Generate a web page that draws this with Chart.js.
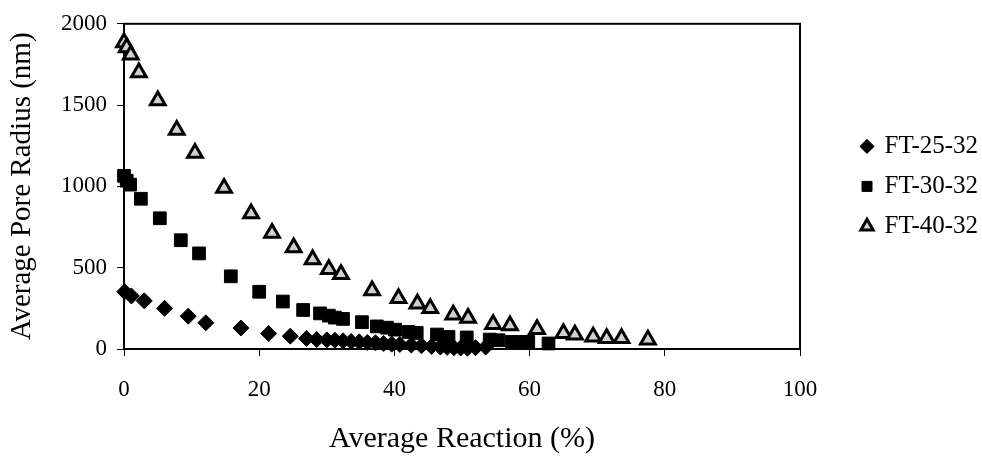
<!DOCTYPE html>
<html>
<head>
<meta charset="utf-8">
<script src="https://cdn.jsdelivr.net/npm/chart.js@4/dist/chart.umd.min.js"></script>
<style>
  html, body { margin: 0; padding: 0; background: #fff; }
  #wrap { width: 982px; height: 462px; }
</style>
</head>
<body>
<div id="wrap"><canvas id="myChart" width="982" height="462"></canvas></div>
<script>
// series names
const seriesNames = ['FT-25-32', 'FT-30-32', 'FT-40-32'];

// FT-25-32 (diamonds)
const reaction25 = [0.1, 1.1, 3.0, 6.0, 9.5, 12.1, 17.3, 21.4, 24.6, 27.0, 28.5, 30.0, 31.2, 32.4, 33.6, 34.8, 36.0, 37.2, 38.4, 39.6, 40.8, 42.5, 44.0, 45.5, 46.8, 47.8, 48.8, 49.8, 50.8, 52.0, 53.5];
const radius25 = [352, 326, 296, 250, 202, 161, 129, 95, 79, 65, 58, 56, 54, 50, 46, 44, 40, 38, 34, 30, 28, 24, 20, 16, 12, 10, 8, 6, 5, 8, 12];

// FT-30-32 (squares)
const reaction30 = [0.0, 0.4, 0.9, 2.5, 5.3, 8.4, 11.1, 15.8, 20.0, 23.5, 26.5, 29.0, 30.3, 31.2, 32.4, 35.2, 37.4, 38.9, 40.1, 42.1, 43.3, 46.3, 48.0, 50.7, 54.1, 55.4, 57.4, 58.6, 59.8, 62.8];
const radius30 = [1065, 1035, 1011, 924, 804, 669, 588, 447, 352, 292, 240, 219, 205, 193, 185, 165, 139, 131, 119, 105, 99, 89, 74, 71, 58, 54, 44, 44, 44, 34];

// FT-40-32 (triangles)
const reaction40 = [0.0, 0.4, 1.0, 2.2, 5.0, 7.8, 10.5, 14.8, 18.8, 21.9, 25.1, 27.9, 30.3, 32.1, 36.7, 40.6, 43.4, 45.3, 48.7, 50.9, 54.6, 57.1, 61.1, 65.0, 66.7, 69.4, 71.4, 73.6, 77.5];
const radius40 = [1885, 1855, 1810, 1700, 1529, 1347, 1205, 990, 834, 713, 625, 550, 490, 459, 360, 312, 278, 250, 210, 190, 152, 145, 122, 97, 88, 75, 66, 66, 57];

// axis ticks
const xTicks = [0, 20, 40, 60, 80, 100];
const yTicks = [0, 500, 1000, 1500, 2000];

const serif = "'Liberation Serif', 'Times New Roman', serif";

const toPoints = (xs, ys) => xs.map((x, i) => ({ x: x, y: ys[i] }));

// draw the box round the plot area
const frame = {
  id: 'frame',
  beforeDatasetsDraw(chart) {
    const a = chart.chartArea;
    const ctx = chart.ctx;
    ctx.save();
    ctx.strokeStyle = '#000';
    ctx.lineWidth = 2;
    ctx.strokeRect(a.left, a.top, a.right - a.left, a.bottom - a.top);
    ctx.restore();
  }
};

const ctx = document.getElementById('myChart');
new Chart(ctx, {
  type: 'scatter',
  data: {
    datasets: [
      {
        label: seriesNames[0],
        data: toPoints(reaction25, radius25),
        pointStyle: 'rectRot',
        pointRadius: 8,
        backgroundColor: '#000',
        borderColor: '#000',
        borderWidth: 1,
        clip: false
      },
      {
        label: seriesNames[1],
        data: toPoints(reaction30, radius30),
        pointStyle: 'rect',
        pointRadius: 9,
        backgroundColor: '#000',
        borderColor: '#000',
        borderWidth: 1,
        clip: false
      },
      {
        label: seriesNames[2],
        data: toPoints(reaction40, radius40),
        pointStyle: 'triangle',
        pointRadius: 8.5,
        backgroundColor: '#d0d0d0',
        borderColor: '#000',
        borderWidth: 3,
        clip: false
      }
    ]
  },
  options: {
    responsive: false,
    animation: false,
    layout: { padding: { top: 18, left: 0, bottom: 0, right: 0 } },
    plugins: {
      tooltip: { enabled: false },
      legend: {
        position: 'right',
        fullSize: false,
        maxWidth: 135,
        labels: {
          usePointStyle: true,
          boxWidth: 10,
          boxHeight: 10,
          padding: 15,
          color: '#000',
          font: { family: serif, size: 25 }
        }
      }
    },
    scales: {
      x: {
        type: 'linear',
        min: 0,
        max: 100,
        afterBuildTicks: s => { s.ticks = xTicks.map(v => ({ value: v })); },
        afterFit: s => { s.height = 113; },
        grid: { drawOnChartArea: false, drawTicks: true, tickLength: 7, color: '#000' },
        border: { color: '#000', width: 2 },
        ticks: { color: '#000', padding: 20, font: { family: serif, size: 23 }, callback: v => v },
        title: {
          display: true,
          text: 'Average Reaction (%)',
          color: '#000',
          padding: { top: 0, bottom: 5 },
          font: { family: serif, size: 30 }
        }
      },
      y: {
        type: 'linear',
        min: 0,
        max: 2000,
        afterBuildTicks: s => { s.ticks = yTicks.map(v => ({ value: v })); },
        afterFit: s => { s.width = 124; },
        grid: { drawOnChartArea: false, drawTicks: true, tickLength: 7, color: '#000' },
        border: { color: '#000', width: 2 },
        ticks: { color: '#000', padding: 10, font: { family: serif, size: 23 }, callback: v => v },
        title: {
          display: true,
          text: 'Average Pore Radius (nm)',
          color: '#000',
          padding: { top: 5, bottom: 0 },
          font: { family: serif, size: 29 }
        }
      },
      gap: {
        type: 'linear',
        position: 'right',
        display: true,
        afterFit: s => { s.width = 47; },
        grid: { display: false, drawTicks: false },
        border: { display: false },
        ticks: { display: false }
      }
    }
  },
  plugins: [frame]
});
</script>
</body>
</html>
